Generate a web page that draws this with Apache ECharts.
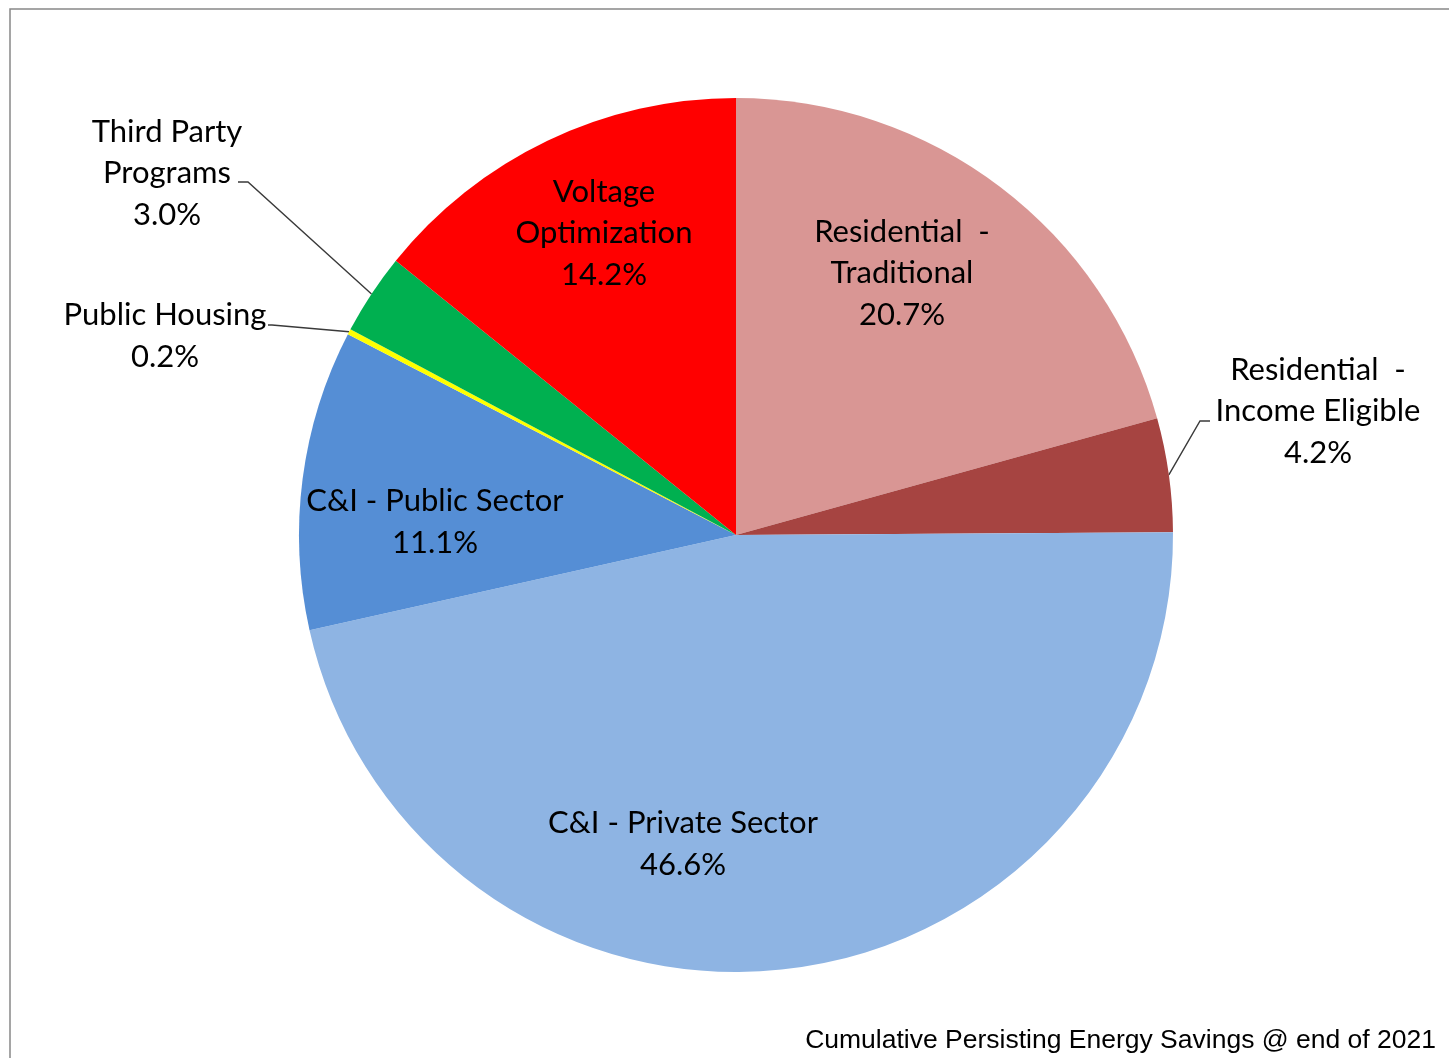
<!DOCTYPE html>
<html>
<head>
<meta charset="utf-8">
<script src="https://cdn.jsdelivr.net/npm/echarts@6/dist/echarts.min.js"></script>
<style>
  html, body { margin: 0; padding: 0; background: #fff; }
  #chart { width: 1449px; height: 1058px; }
</style>
</head>
<body>
<div id="chart"></div>
<script>
// data
const categories = [
  'Residential  -\nTraditional',
  'Residential  -\nIncome Eligible',
  'C&I - Private Sector',
  'C&I - Public Sector',
  'Public Housing',
  'Third Party\nPrograms',
  'Voltage\nOptimization'
];
const shares = [20.7, 4.2, 46.6, 11.1, 0.2, 3.0, 14.2];
const caption = 'Cumulative Persisting Energy Savings @ end of 2021';

// styles / layout
const colors = ['#D99694', '#A64441', '#8EB4E3', '#558ED5', '#FFFF00', '#00B050', '#FF0000'];
const outside = [false, true, false, false, true, true, false];
const cx = 736, cy = 535;
// label centres relative to the pie centre
const labelAt = [
  [166, -262], [582, -124], [-53, 309], [-301, -13],
  [-571, -199], [-569, -362], [-132, -302]
];
// leader line bend / end points relative to the pie centre
const leaderAt = {
  1: [[464, -114], [474, -114]],
  4: [[-464, -210], [-468, -210]],
  5: [[-488, -353], [-498, -353]]
};

const chart = echarts.init(document.getElementById('chart'));

chart.setOption({
  animation: false,
  graphic: [
    {
      type: 'rect',
      shape: { x: 10, y: 9, width: 1500, height: 1100 },
      style: { fill: 'none', stroke: '#888888', lineWidth: 1.5 },
      silent: true
    },
    {
      type: 'text',
      right: 13,
      top: 1027,
      style: {
        text: caption,
        font: '26.5px "Liberation Sans", Arial, sans-serif',
        fill: '#000'
      }
    }
  ],
  series: [
    {
      type: 'pie',
      center: [cx, cy],
      radius: 437,
      startAngle: 90,
      clockwise: true,
      avoidLabelOverlap: false,
      itemStyle: { borderWidth: 0 },
      label: {
        fontFamily: 'Lato, sans-serif',
        fontSize: 31,
        lineHeight: 41.5,
        color: '#000',
        align: 'center',
        formatter: p => p.name + '\n' + p.value.toFixed(1) + '%'
      },
      labelLine: { lineStyle: { color: '#3a3a3a', width: 1.4 } },
      labelLayout: params => {
        const i = params.dataIndex;
        const out = {
          x: cx + labelAt[i][0],
          y: cy + labelAt[i][1],
          align: 'center',
          verticalAlign: 'middle'
        };
        if (leaderAt[i] && params.labelLinePoints) {
          out.labelLinePoints = [
            params.labelLinePoints[0],
            [cx + leaderAt[i][0][0], cy + leaderAt[i][0][1]],
            [cx + leaderAt[i][1][0], cy + leaderAt[i][1][1]]
          ];
        }
        return out;
      },
      data: categories.map((name, i) => ({
        name: name,
        value: shares[i],
        itemStyle: { color: colors[i] },
        label: { position: outside[i] ? 'outside' : 'inside' },
        labelLine: { show: outside[i] }
      }))
    }
  ]
});
</script>
</body>
</html>
